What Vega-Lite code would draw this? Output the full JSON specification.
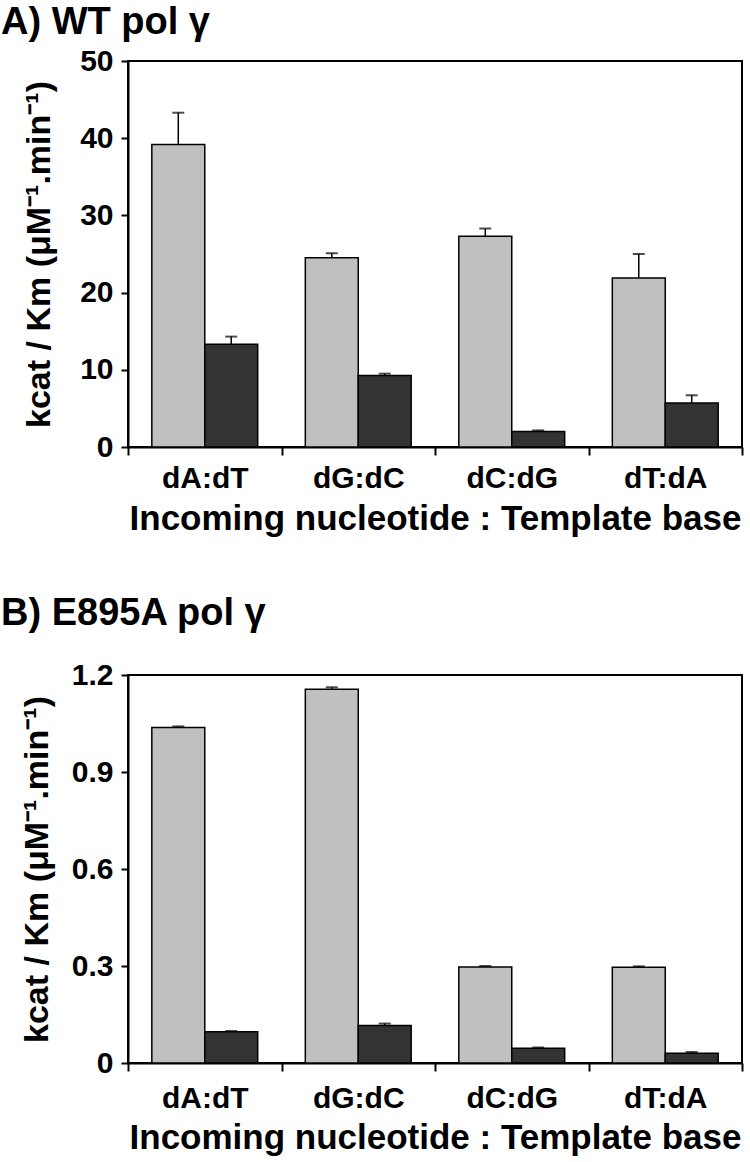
{
  "$schema": "https://vega.github.io/schema/vega-lite/v6.json",
  "padding": {"top": 3, "left": 0, "right": 0, "bottom": 0},
  "background": "white",
  "spacing": 57,
  "config": {
    "font": "Liberation Sans",
    "view": {"stroke": "black", "strokeWidth": 2},
    "axis": {
      "domainColor": "black", "domainWidth": 2,
      "tickColor": "black", "tickWidth": 2, "tickSize": 7,
      "labelFont": "Liberation Sans", "labelFontWeight": "bold", "labelFontSize": 30, "labelColor": "black",
      "titleFont": "Liberation Sans", "titleFontWeight": "bold", "titleColor": "black",
      "grid": false
    },
    "title": {"font": "Liberation Sans", "fontWeight": "bold", "fontSize": 38, "color": "black", "anchor": "start", "frame": "group", "baseline": "alphabetic", "dx": -127}
  },
  "datasets": {
    "A": [
      {"pair": "dA:dT", "series": "light", "value": 39.2, "hi": 43.3},
      {"pair": "dA:dT", "series": "dark", "value": 13.3, "hi": 14.3},
      {"pair": "dG:dC", "series": "light", "value": 24.5, "hi": 25.1},
      {"pair": "dG:dC", "series": "dark", "value": 9.25, "hi": 9.5},
      {"pair": "dC:dG", "series": "light", "value": 27.3, "hi": 28.3},
      {"pair": "dC:dG", "series": "dark", "value": 2.0, "hi": 2.15},
      {"pair": "dT:dA", "series": "light", "value": 21.9, "hi": 25.0},
      {"pair": "dT:dA", "series": "dark", "value": 5.7, "hi": 6.7}
    ],
    "B": [
      {"pair": "dA:dT", "series": "light", "value": 1.038, "hi": 1.041},
      {"pair": "dA:dT", "series": "dark", "value": 0.097, "hi": 0.099},
      {"pair": "dG:dC", "series": "light", "value": 1.156, "hi": 1.162},
      {"pair": "dG:dC", "series": "dark", "value": 0.116, "hi": 0.122},
      {"pair": "dC:dG", "series": "light", "value": 0.297, "hi": 0.3},
      {"pair": "dC:dG", "series": "dark", "value": 0.046, "hi": 0.048},
      {"pair": "dT:dA", "series": "light", "value": 0.296, "hi": 0.299},
      {"pair": "dT:dA", "series": "dark", "value": 0.03, "hi": 0.034}
    ]
  },
  "vconcat": [
    {
      "width": 614,
      "height": 386,
      "title": {"text": "A) WT pol γ", "offset": 4},
      "data": {"name": "A"},
      "encoding": {
        "x": {"field": "pair", "type": "nominal", "sort": ["dA:dT", "dG:dC", "dC:dG", "dT:dA"],
          "scale": {"paddingInner": 0, "paddingOuter": 0},
          "axis": {"title": "Incoming nucleotide : Template base", "labelAngle": 0, "tickBand": "extent", "tickSize": 8, "labelPadding": 8, "titlePadding": 8, "titleFontSize": 35}},
        "xOffset": {"field": "series", "type": "nominal", "sort": ["light", "dark"], "scale": {"paddingInner": 0, "paddingOuter": 0.45}}
      },
      "layer": [
        {
          "mark": {"type": "bar", "stroke": "black", "strokeWidth": 1.5},
          "encoding": {
            "y": {"field": "value", "type": "quantitative", "scale": {"domain": [0, 50], "nice": false}, "title": "kcat / Km (μM⁻¹.min⁻¹)",
              "axis": {"values": [0, 10, 20, 30, 40, 50], "titleFontSize": 34, "titlePadding": 23, "labelPadding": 8}},
            "color": {"field": "series", "type": "nominal", "scale": {"domain": ["light", "dark"], "range": ["#c0c0c0", "#333333"]}, "legend": null}
          }
        },
        {
          "mark": {"type": "rule", "color": "black", "strokeWidth": 1.5},
          "encoding": {"y": {"field": "value", "type": "quantitative", "title": "kcat / Km (μM⁻¹.min⁻¹)"}, "y2": {"field": "hi"}}
        },
        {
          "mark": {"type": "tick", "color": "black", "thickness": 2, "size": 12},
          "encoding": {"y": {"field": "hi", "type": "quantitative", "title": "kcat / Km (μM⁻¹.min⁻¹)"}}
        }
      ]
    },
    {
      "width": 614,
      "height": 388,
      "title": {"text": "B) E895A pol γ", "offset": 27},
      "data": {"name": "B"},
      "encoding": {
        "x": {"field": "pair", "type": "nominal", "sort": ["dA:dT", "dG:dC", "dC:dG", "dT:dA"],
          "scale": {"paddingInner": 0, "paddingOuter": 0},
          "axis": {"title": "Incoming nucleotide : Template base", "labelAngle": 0, "tickBand": "extent", "tickSize": 8, "labelPadding": 12, "titlePadding": 7, "titleFontSize": 35}},
        "xOffset": {"field": "series", "type": "nominal", "sort": ["light", "dark"], "scale": {"paddingInner": 0, "paddingOuter": 0.45}}
      },
      "layer": [
        {
          "mark": {"type": "bar", "stroke": "black", "strokeWidth": 1.5},
          "encoding": {
            "y": {"field": "value", "type": "quantitative", "scale": {"domain": [0, 1.2], "nice": false}, "title": "kcat / Km (μM⁻¹.min⁻¹)",
              "axis": {"values": [0, 0.3, 0.6, 0.9, 1.2], "labelExpr": "datum.value == 0 ? '0' : format(datum.value, '.1f')", "titleFontSize": 34, "titlePadding": 17, "labelPadding": 8}},
            "color": {"field": "series", "type": "nominal", "scale": {"domain": ["light", "dark"], "range": ["#c0c0c0", "#333333"]}, "legend": null}
          }
        },
        {
          "mark": {"type": "rule", "color": "black", "strokeWidth": 1.5},
          "encoding": {"y": {"field": "value", "type": "quantitative", "title": "kcat / Km (μM⁻¹.min⁻¹)"}, "y2": {"field": "hi"}}
        },
        {
          "mark": {"type": "tick", "color": "black", "thickness": 2, "size": 12},
          "encoding": {"y": {"field": "hi", "type": "quantitative", "title": "kcat / Km (μM⁻¹.min⁻¹)"}}
        }
      ]
    }
  ]
}
